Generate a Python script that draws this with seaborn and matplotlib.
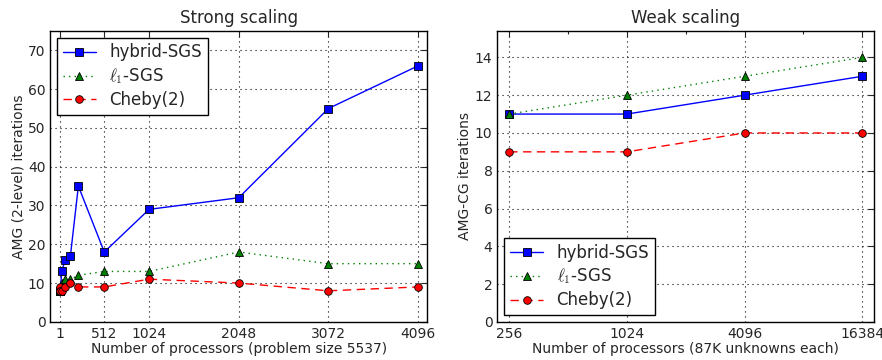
"""
Strong and weak scaling of AMG smoothers, two line plots side by side.
"""

import matplotlib
matplotlib.use('Agg')
import matplotlib.pyplot as plt
import matplotlib.ticker as mticker
import numpy as np
import pandas as pd
import seaborn as sns

# strong scaling (left)
strong_procs = [1, 8, 27, 64, 125, 216, 512, 1024, 2048, 3072, 4096]
strong_hybrid = [8, 8, 13, 16, 17, 35, 18, 29, 32, 55, 66]
strong_l1 = [8, 9, 10, 11, 11, 12, 13, 13, 18, 15, 15]
strong_cheby = [9, 8, 8, 9, 10, 9, 9, 11, 10, 8, 9]
strong_xticks = [1, 512, 1024, 2048, 3072, 4096]

# weak scaling (right)
weak_procs = [256, 1024, 4096, 16384]
weak_hybrid = [11, 11, 12, 13]
weak_l1 = [11, 12, 13, 14]
weak_cheby = [9, 9, 10, 10]

labels = ['hybrid-SGS', r'$\ell_1$-SGS', 'Cheby(2)']
colors = ['#0000ff', '#008000', '#ff0000']
markers = ['s', '^', 'o']
styles = ['-', (0, (1, 3)), (0, (6, 4))]

sns.set_style('white')
plt.rcParams['font.family'] = ['DejaVu Sans']
plt.rcParams['mathtext.fontset'] = 'cm'
plt.rcParams['xtick.direction'] = 'in'
plt.rcParams['ytick.direction'] = 'in'


def draw(ax, x, series):
    for ys, lab, c, m, ls in zip(series, labels, colors, markers, styles):
        df = pd.DataFrame({'procs': x, 'iters': ys})
        sns.lineplot(data=df, x='procs', y='iters', ax=ax, color=c, marker=m,
                     linestyle=ls, linewidth=1, markersize=5.5, markeredgecolor='k',
                     markeredgewidth=0.6, label=lab)
    ax.grid(True, color='k', linestyle=(0, (1, 3.5)), linewidth=0.8)
    for sp in ax.spines.values():
        sp.set_color('k')
        sp.set_linewidth(1)
    ax.tick_params(which='both', top=True, right=True, labelsize=10, length=4, width=0.8)
    ax.tick_params(which='minor', length=2)


def add_legend(ax, loc):
    ax.legend(loc=loc, fontsize=12, fancybox=False, framealpha=1, edgecolor='k',
              borderaxespad=0.4, handletextpad=0.8, labelspacing=0.3, borderpad=0.35)


fig, (ax1, ax2) = plt.subplots(1, 2, figsize=(8.82, 3.6), dpi=100)
fig.subplots_adjust(left=0.057, right=0.991, top=0.914, bottom=0.106, wspace=0.187)

draw(ax1, strong_procs, [strong_hybrid, strong_l1, strong_cheby])
ax1.set_xlim(-105, 4198)
ax1.set_ylim(0, 75)
ax1.set_xticks(strong_xticks)
ax1.set_yticks(np.arange(0, 71, 10))
ax1.set_title('Strong scaling', fontsize=12)
ax1.set_xlabel('Number of processors (problem size 5537)', fontsize=10, labelpad=1)
ax1.set_ylabel('AMG (2-level) iterations', fontsize=10, labelpad=2)
add_legend(ax1, 'upper left')

draw(ax2, weak_procs, [weak_hybrid, weak_l1, weak_cheby])
ax2.set_xscale('log', base=2)
ax2.set_xlim(256 / 1.149, 16384 * 1.149)
ax2.set_ylim(0, 15.4)
ax2.set_xticks(weak_procs)
ax2.xaxis.set_major_formatter(mticker.FixedFormatter([str(v) for v in weak_procs]))
ax2.xaxis.set_minor_locator(mticker.FixedLocator([512, 2048, 8192]))
ax2.xaxis.set_minor_formatter(mticker.NullFormatter())
ax2.set_yticks(np.arange(0, 15, 2))
ax2.set_title('Weak scaling', fontsize=12)
ax2.set_xlabel('Number of processors (87K unknowns each)', fontsize=10, labelpad=1)
ax2.set_ylabel('AMG-CG iterations', fontsize=10, labelpad=2)
add_legend(ax2, 'lower left')

fig.savefig('out.png', dpi=100)
